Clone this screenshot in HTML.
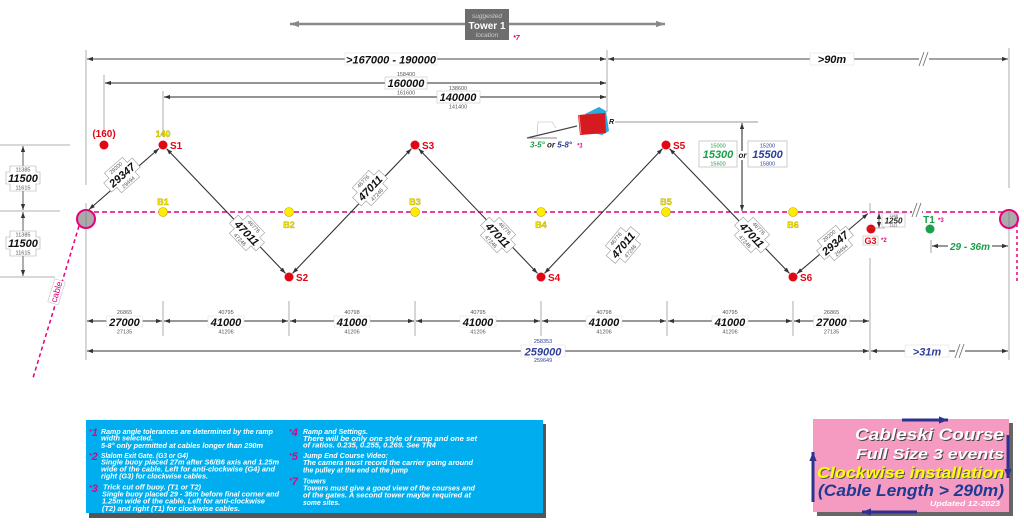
<!DOCTYPE html>
<html><head><meta charset="utf-8"><style>
html,body{margin:0;padding:0;background:#fff;}
svg{display:block;}
text{font-family:"Liberation Sans",Arial,sans-serif;}
.s{font-size:5.5px;fill:#555;text-anchor:middle;}
.b{font-size:11px;font-weight:bold;font-style:italic;fill:#111;text-anchor:middle;}
.n{font-size:7.5px;font-weight:bold;font-style:italic;fill:#fff;}
.m{font-weight:bold;font-style:italic;fill:#e6007e;font-size:11px;}
.red{font-size:10px;font-weight:bold;fill:#e30613;}
.yel{font-size:9px;font-weight:bold;fill:#f0e000;stroke:#a89a00;stroke-width:0.3;text-anchor:middle;}
</style></head><body>
<svg width="1024" height="528" viewBox="0 0 1024 528" xmlns="http://www.w3.org/2000/svg">
<defs>
<marker id="a" viewBox="0 0 10 10" refX="10" refY="5" markerWidth="6" markerHeight="6" markerUnits="userSpaceOnUse" orient="auto-start-reverse"><path d="M0,1.5L10,5L0,8.5z" fill="#333"/></marker>
<marker id="g" viewBox="0 0 10 10" refX="10" refY="5" markerWidth="9" markerHeight="9" markerUnits="userSpaceOnUse" orient="auto-start-reverse"><path d="M0,1.5L10,5L0,8.5z" fill="#888"/></marker>
<marker id="bl" viewBox="0 0 10 10" refX="10" refY="5" markerWidth="9" markerHeight="9" markerUnits="userSpaceOnUse" orient="auto-start-reverse"><path d="M0,1L10,5L0,9z" fill="#2e3192"/></marker>
</defs>

<!-- Tower -->
<line x1="290" y1="24" x2="665" y2="24" stroke="#8a8a8a" stroke-width="2.5" marker-start="url(#g)" marker-end="url(#g)"/>
<rect x="465" y="9" width="44" height="31" fill="#6d6d6d"/>
<text x="487" y="18" font-size="6.5" font-style="italic" fill="#ccc" text-anchor="middle">suggested</text>
<text x="487" y="29" font-size="10" font-weight="bold" fill="#fff" text-anchor="middle">Tower 1</text>
<text x="487" y="37" font-size="6.5" font-style="italic" fill="#ccc" text-anchor="middle">location</text>
<text x="513" y="40" font-size="7" font-weight="bold" font-style="italic" fill="#e6007e">*7</text>

<!-- vertical reference lines -->
<g stroke="#999" stroke-width="0.8">
<line x1="86" y1="50" x2="86" y2="185"/>
<line x1="86" y1="203" x2="86" y2="360"/>
<line x1="104" y1="75" x2="104" y2="133"/>
<line x1="163" y1="91" x2="163" y2="137"/>
<line x1="607" y1="50" x2="607" y2="112"/>
<line x1="1009" y1="48" x2="1009" y2="188"/>
<line x1="1009" y1="228" x2="1009" y2="360"/>
<line x1="870" y1="203" x2="870" y2="214"/>
<line x1="870" y1="258" x2="870" y2="360"/>
<line x1="0" y1="145" x2="70" y2="145"/>
<line x1="0" y1="211" x2="60" y2="211"/>
<line x1="0" y1="277" x2="55" y2="277"/>
</g>

<!-- top dims -->
<line x1="87" y1="59" x2="606" y2="59" stroke="#444" stroke-width="0.9" marker-start="url(#a)" marker-end="url(#a)"/>
<rect x="345" y="53" width="92" height="12" fill="#fff" stroke="#ddd" stroke-width="0.5"/>
<text x="391" y="63.5" class="b" font-size="12" textLength="90" lengthAdjust="spacingAndGlyphs">&gt;167000 - 190000</text>
<line x1="608" y1="59" x2="1008" y2="59" stroke="#444" stroke-width="0.9" marker-start="url(#a)" marker-end="url(#a)"/>
<rect x="810" y="53" width="44" height="12" fill="#fff" stroke="#ddd" stroke-width="0.5"/>
<text x="832" y="63" class="b">&gt;90m</text>
<rect x="919" y="52" width="10" height="14" fill="#fff"/>
<line x1="919" y1="66" x2="924" y2="52" stroke="#777" stroke-width="0.9"/>
<line x1="923" y1="66" x2="928" y2="52" stroke="#777" stroke-width="0.9"/>

<line x1="105" y1="83" x2="606" y2="83" stroke="#555" stroke-width="1.3" marker-start="url(#a)" marker-end="url(#a)"/>
<rect x="385" y="77" width="42" height="12" fill="#fff" stroke="#bbb" stroke-width="0.5"/>
<text x="406" y="76" class="s">158400</text>
<text x="406" y="87" class="b">160000</text>
<text x="406" y="94.5" class="s">161600</text>
<line x1="164" y1="97" x2="606" y2="97" stroke="#555" stroke-width="1.3" marker-start="url(#a)" marker-end="url(#a)"/>
<rect x="437" y="91" width="43" height="12" fill="#fff" stroke="#bbb" stroke-width="0.5"/>
<text x="458" y="90" class="s">138600</text>
<text x="458" y="101" class="b">140000</text>
<text x="458" y="108.5" class="s">141400</text>

<!-- left vertical dims -->
<line x1="23" y1="146" x2="23" y2="210" stroke="#333" stroke-width="0.8" marker-start="url(#a)" marker-end="url(#a)"/>
<line x1="23" y1="212" x2="23" y2="276" stroke="#333" stroke-width="0.8" marker-start="url(#a)" marker-end="url(#a)"/>
<path d="M10,166H36V172H40V184H36V191H10V184H6V172H10Z" fill="#fff" stroke="#aaa" stroke-width="0.6"/>
<text x="23" y="171.5" class="s">11385</text>
<text x="23" y="182" class="b">11500</text>
<text x="23" y="189.5" class="s">11615</text>
<path d="M10,231H36V237H40V249H36V256H10V249H6V237H10Z" fill="#fff" stroke="#aaa" stroke-width="0.6"/>
<text x="23" y="236.5" class="s">11385</text>
<text x="23" y="247" class="b">11500</text>
<text x="23" y="254.5" class="s">11615</text>

<!-- cable -->
<line x1="79" y1="226" x2="33" y2="378" stroke="#e6007e" stroke-width="1.5" stroke-dasharray="4,3"/>
<g transform="translate(57,292) rotate(-73)">
<rect x="-12" y="-6" width="24" height="11" fill="#fff" stroke="#bbb" stroke-width="0.5"/>
<text x="0" y="2.5" font-size="9" fill="#e6007e" text-anchor="middle">cable</text>
</g>

<!-- main dashed axis -->
<line x1="86" y1="212" x2="1009" y2="212" stroke="#e6007e" stroke-width="1.5" stroke-dasharray="5,3"/>
<line x1="1017" y1="224" x2="1017" y2="283" stroke="#e6007e" stroke-width="1.5" stroke-dasharray="3,3"/>
<rect x="912" y="203" width="10" height="14" fill="#fff"/>
<line x1="912" y1="217" x2="917" y2="203" stroke="#777" stroke-width="0.9"/>
<line x1="916" y1="217" x2="921" y2="203" stroke="#777" stroke-width="0.9"/>

<!-- pulleys -->
<circle cx="86" cy="219" r="9" fill="#aaa" stroke="#e6007e" stroke-width="2"/>
<line x1="86" y1="210" x2="86" y2="228" stroke="#777" stroke-width="0.6"/>
<circle cx="1009" cy="219" r="9" fill="#aaa" stroke="#e6007e" stroke-width="2"/>
<line x1="1009" y1="210" x2="1009" y2="228" stroke="#777" stroke-width="0.6"/>

<!-- ramp -->
<polygon points="585,114 599,107 606,111 609,131 602,135 588,132" fill="#29abe2"/>
<polygon points="578,115 605,113 606,133 580,135" fill="#d71920"/>
<line x1="579" y1="115" x2="581" y2="134" stroke="#f5a0a0" stroke-width="0.8"/>
<polyline points="537,135 538,122 552,122 556,128" fill="none" stroke="#bbb" stroke-width="0.6"/>
<line x1="527" y1="138" x2="577" y2="126" stroke="#444" stroke-width="1.2"/>
<line x1="527" y1="138" x2="557" y2="138" stroke="#666" stroke-width="0.8"/>
<text x="530" y="147.5" font-size="8" font-weight="bold" font-style="italic"><tspan fill="#1aa04a">3-5°</tspan><tspan fill="#222"> or </tspan><tspan fill="#2e3f9a">5-8°</tspan><tspan fill="#e6007e" font-size="6" dx="5">*1</tspan></text>
<text x="609" y="124" font-size="7" font-weight="bold" font-style="italic" fill="#111">R</text>
<line x1="615" y1="122" x2="758" y2="122" stroke="#777" stroke-width="0.8"/>
<line x1="742" y1="123" x2="742" y2="211" stroke="#222" stroke-width="1" marker-start="url(#a)" marker-end="url(#a)"/>
<rect x="699" y="141" width="38" height="26" fill="#fff" stroke="#aaa" stroke-width="0.6"/>
<text x="718" y="147.5" class="s" style="fill:#1aa04a">15000</text>
<text x="718" y="158" class="b" style="fill:#1aa04a">15300</text>
<text x="718" y="165.5" class="s" style="fill:#1aa04a">15600</text>
<rect x="738" y="151" width="9" height="9" fill="#fff"/>
<text x="742.5" y="158" font-size="8" font-weight="bold" font-style="italic" fill="#222" text-anchor="middle">or</text>
<rect x="748" y="141" width="39" height="26" fill="#fff" stroke="#aaa" stroke-width="0.6"/>
<text x="767.5" y="147.5" class="s" style="fill:#2e3f9a">15200</text>
<text x="767.5" y="158" class="b" style="fill:#2e3f9a">15500</text>
<text x="767.5" y="165.5" class="s" style="fill:#2e3f9a">15800</text>

<!-- zigzag -->
<g stroke="#333" stroke-width="1.1" marker-start="url(#a)" marker-end="url(#a)">
<line x1="89" y1="209.5" x2="159" y2="148.5"/>
<line x1="166.5" y1="148.6" x2="285.5" y2="273.4"/>
<line x1="292.5" y1="273.4" x2="411.5" y2="148.6"/>
<line x1="418.5" y1="148.6" x2="537.5" y2="273.4"/>
<line x1="544.5" y1="273.4" x2="662.5" y2="148.6"/>
<line x1="669.5" y1="148.6" x2="789.5" y2="273.4"/>
<line x1="796.8" y1="273.8" x2="868" y2="213.5"/>
</g>

<!-- slanted labels -->
<g transform="translate(122,175) rotate(-41)">
<path d="M-12,-13H12V-6H19V6H12V13H-12V6H-19V-6H-12Z" fill="#fff" stroke="#999" stroke-width="0.6"/>
<text x="0" y="-7.5" class="s">29200</text><text x="0" y="4" class="b">29347</text><text x="0" y="11.5" class="s">29494</text></g>
<g transform="translate(247,233) rotate(46.3)">
<path d="M-12,-13H12V-6H19V6H12V13H-12V6H-19V-6H-12Z" fill="#fff" stroke="#999" stroke-width="0.6"/>
<text x="0" y="-7.5" class="s">46776</text><text x="0" y="4" class="b">47011</text><text x="0" y="11.5" class="s">47246</text></g>
<g transform="translate(370,188) rotate(-46.3)">
<path d="M-12,-13H12V-6H19V6H12V13H-12V6H-19V-6H-12Z" fill="#fff" stroke="#999" stroke-width="0.6"/>
<text x="0" y="-7.5" class="s">46776</text><text x="0" y="4" class="b">47011</text><text x="0" y="11.5" class="s">47246</text></g>
<g transform="translate(498,235) rotate(46.3)">
<path d="M-12,-13H12V-6H19V6H12V13H-12V6H-19V-6H-12Z" fill="#fff" stroke="#999" stroke-width="0.6"/>
<text x="0" y="-7.5" class="s">46776</text><text x="0" y="4" class="b">47011</text><text x="0" y="11.5" class="s">47246</text></g>
<g transform="translate(623,245) rotate(-50)">
<path d="M-12,-13H12V-6H19V6H12V13H-12V6H-19V-6H-12Z" fill="#fff" stroke="#999" stroke-width="0.6"/>
<text x="0" y="-7.5" class="s">46776</text><text x="0" y="4" class="b">47011</text><text x="0" y="11.5" class="s">47246</text></g>
<g transform="translate(752,235) rotate(46.3)">
<path d="M-12,-13H12V-6H19V6H12V13H-12V6H-19V-6H-12Z" fill="#fff" stroke="#999" stroke-width="0.6"/>
<text x="0" y="-7.5" class="s">46776</text><text x="0" y="4" class="b">47011</text><text x="0" y="11.5" class="s">47246</text></g>
<g transform="translate(835,243) rotate(-40)">
<path d="M-12,-13H12V-6H19V6H12V13H-12V6H-19V-6H-12Z" fill="#fff" stroke="#999" stroke-width="0.6"/>
<text x="0" y="-7.5" class="s">29200</text><text x="0" y="4" class="b">29347</text><text x="0" y="11.5" class="s">29494</text></g>

<!-- buoys -->
<g fill="#ffec00" stroke="#b8a600" stroke-width="0.6">
<circle cx="163" cy="212" r="4.5"/><circle cx="289" cy="212" r="4.5"/><circle cx="415" cy="212" r="4.5"/>
<circle cx="541" cy="212" r="4.5"/><circle cx="666" cy="212" r="4.5"/><circle cx="793" cy="212" r="4.5"/>
</g>
<text x="163" y="205" class="yel">B1</text>
<text x="289" y="228" class="yel">B2</text>
<text x="415" y="205" class="yel">B3</text>
<text x="541" y="228" class="yel">B4</text>
<text x="666" y="205" class="yel">B5</text>
<text x="793" y="228" class="yel">B6</text>

<!-- slalom dots -->
<g fill="#e30613">
<circle cx="163" cy="145" r="4.5"/><circle cx="289" cy="277" r="4.5"/><circle cx="415" cy="145" r="4.5"/>
<circle cx="541" cy="277" r="4.5"/><circle cx="666" cy="145" r="4.5"/><circle cx="793" cy="277" r="4.5"/>
<circle cx="104" cy="145" r="4.5"/><circle cx="871" cy="229" r="4.5"/>
</g>
<text x="170" y="149" class="red">S1</text>
<text x="296" y="281" class="red">S2</text>
<text x="422" y="149" class="red">S3</text>
<text x="548" y="281" class="red">S4</text>
<text x="673" y="149" class="red">S5</text>
<text x="800" y="281" class="red">S6</text>
<text x="104" y="137" class="red" text-anchor="middle">(160)</text>
<text x="163" y="137" class="yel">140</text>

<!-- right end -->
<line x1="879" y1="213" x2="879" y2="228" stroke="#333" stroke-width="0.8" marker-start="url(#a)" marker-end="url(#a)"/>
<line x1="866" y1="228" x2="885" y2="228" stroke="#777" stroke-width="0.6"/>
<rect x="882" y="213" width="23" height="14" fill="#fff" stroke="#aaa" stroke-width="0.5"/>
<text x="893.5" y="217" font-size="4" fill="#555" text-anchor="middle">1188</text>
<text x="893.5" y="223.5" font-size="8" font-weight="bold" font-style="italic" fill="#222" text-anchor="middle">1250</text>
<text x="893.5" y="227" font-size="3.5" fill="#555" text-anchor="middle">1313</text>
<rect x="863" y="236" width="15" height="9" fill="#fff" stroke="#aaa" stroke-width="0.5"/>
<text x="870.5" y="244" font-size="9" font-weight="bold" fill="#e30613" text-anchor="middle">G3</text>
<text x="881" y="242" font-size="6" font-weight="bold" fill="#e6007e">*2</text>
<text x="929" y="223" font-size="10" font-weight="bold" fill="#1aa04a" text-anchor="middle">T1</text>
<text x="938" y="222" font-size="6" font-weight="bold" fill="#e6007e">*3</text>
<circle cx="930" cy="229" r="4.5" fill="#1aa04a"/>
<line x1="931" y1="240" x2="931" y2="253" stroke="#777" stroke-width="0.7"/>
<line x1="932" y1="246" x2="1008" y2="246" stroke="#333" stroke-width="0.9" marker-start="url(#a)" marker-end="url(#a)"/>
<rect x="948" y="240" width="44" height="12" fill="#fff"/>
<text x="970" y="250" font-size="10" font-weight="bold" font-style="italic" fill="#1aa04a" text-anchor="middle">29 - 36m</text>

<!-- bottom dims -->
<g stroke="#999" stroke-width="0.8">
<line x1="163" y1="301" x2="163" y2="336"/><line x1="289" y1="301" x2="289" y2="336"/>
<line x1="415" y1="301" x2="415" y2="336"/><line x1="541" y1="301" x2="541" y2="336"/>
<line x1="667" y1="301" x2="667" y2="336"/><line x1="793" y1="301" x2="793" y2="336"/>
</g>
<g stroke="#333" stroke-width="0.9" marker-start="url(#a)" marker-end="url(#a)">
<line x1="87" y1="321" x2="162" y2="321"/><line x1="164" y1="321" x2="288" y2="321"/>
<line x1="290" y1="321" x2="414" y2="321"/><line x1="416" y1="321" x2="540" y2="321"/>
<line x1="542" y1="321" x2="666" y2="321"/><line x1="668" y1="321" x2="792" y2="321"/>
<line x1="794" y1="321" x2="869" y2="321"/>
<line x1="87" y1="351" x2="869" y2="351"/><line x1="871" y1="351" x2="1008" y2="351"/>
</g>
<g fill="#fff" stroke="#ddd" stroke-width="0.5">
<rect x="106.5" y="316" width="36" height="11"/><rect x="208" y="316" width="36" height="11"/>
<rect x="334" y="316" width="36" height="11"/><rect x="460" y="316" width="36" height="11"/>
<rect x="586" y="316" width="36" height="11"/><rect x="712" y="316" width="36" height="11"/>
<rect x="813.5" y="316" width="36" height="11"/>
<rect x="521" y="345" width="44" height="12"/><rect x="905" y="345" width="44" height="12"/>
</g>
<text x="124.5" y="314" class="s">26865</text><text x="124.5" y="326" class="b" font-size="12">27000</text><text x="124.5" y="333.5" class="s">27135</text>
<text x="226" y="314" class="s">40795</text><text x="226" y="326" class="b" font-size="12">41000</text><text x="226" y="333.5" class="s">41206</text>
<text x="352" y="314" class="s">40798</text><text x="352" y="326" class="b" font-size="12">41000</text><text x="352" y="333.5" class="s">41206</text>
<text x="478" y="314" class="s">40795</text><text x="478" y="326" class="b" font-size="12">41000</text><text x="478" y="333.5" class="s">41206</text>
<text x="604" y="314" class="s">40798</text><text x="604" y="326" class="b" font-size="12">41000</text><text x="604" y="333.5" class="s">41206</text>
<text x="730" y="314" class="s">40795</text><text x="730" y="326" class="b" font-size="12">41000</text><text x="730" y="333.5" class="s">41206</text>
<text x="831.5" y="314" class="s">26865</text><text x="831.5" y="326" class="b" font-size="12">27000</text><text x="831.5" y="333.5" class="s">27135</text>
<text x="543" y="343" class="s" style="fill:#2e3f9a">258353</text>
<text x="543" y="355.5" class="b" font-size="12" style="fill:#2e3f9a">259000</text>
<text x="543" y="362" class="s" style="fill:#2e3f9a">259649</text>
<text x="927" y="355.5" class="b" font-size="12" style="fill:#2e3f9a">&gt;31m</text>
<rect x="955" y="344" width="10" height="14" fill="#fff"/>
<line x1="955" y1="358" x2="960" y2="344" stroke="#777" stroke-width="0.9"/>
<line x1="959" y1="358" x2="964" y2="344" stroke="#777" stroke-width="0.9"/>

<!-- notes box -->
<rect x="89" y="424" width="457" height="94" fill="#555"/>
<rect x="86" y="420" width="457" height="93" fill="#00aeef"/>
<text x="89" y="436" class="m"><tspan font-size="7" dy="-2">*</tspan><tspan dy="2">1</tspan></text>
<text x="101" y="434" class="n" textLength="172" lengthAdjust="spacingAndGlyphs">Ramp angle tolerances are determined by the ramp</text>
<text x="101" y="440.5" class="n" textLength="52" lengthAdjust="spacingAndGlyphs">width selected.</text>
<text x="101" y="448" class="n" textLength="162" lengthAdjust="spacingAndGlyphs">5-8° only permitted at cables longer than 290m</text>
<text x="89" y="460" class="m"><tspan font-size="7" dy="-2">*</tspan><tspan dy="2">2</tspan></text>
<text x="101" y="458" class="n" textLength="87" lengthAdjust="spacingAndGlyphs">Slalom Exit Gate. (G3 or G4)</text>
<text x="101" y="464.5" class="n" textLength="178" lengthAdjust="spacingAndGlyphs">Single buoy placed 27m after S6/B6 axis and 1.25m</text>
<text x="101" y="471.5" class="n" textLength="174" lengthAdjust="spacingAndGlyphs">wide of the cable. Left for anti-clockwise (G4) and</text>
<text x="101" y="478.5" class="n" textLength="107" lengthAdjust="spacingAndGlyphs">right (G3) for clockwise cables.</text>
<text x="89" y="492" class="m"><tspan font-size="7" dy="-2">*</tspan><tspan dy="2">3</tspan></text>
<text x="103" y="489.5" class="n" textLength="98" lengthAdjust="spacingAndGlyphs">Trick cut off buoy. (T1 or T2)</text>
<text x="102" y="496.5" class="n" textLength="177" lengthAdjust="spacingAndGlyphs">Single buoy placed 29 - 36m before final corner and</text>
<text x="102" y="503.5" class="n" textLength="163" lengthAdjust="spacingAndGlyphs">1.25m wide of the cable. Left for anti-clockwise</text>
<text x="102" y="511" class="n" textLength="138" lengthAdjust="spacingAndGlyphs">(T2) and right (T1) for clockwise cables.</text>
<text x="289" y="436" class="m"><tspan font-size="7" dy="-2">*</tspan><tspan dy="2">4</tspan></text>
<text x="303" y="434" class="n" textLength="65" lengthAdjust="spacingAndGlyphs">Ramp and Settings.</text>
<text x="303" y="441" class="n" textLength="174" lengthAdjust="spacingAndGlyphs">There will be only one style of ramp and  one set</text>
<text x="303" y="447.5" class="n" textLength="133" lengthAdjust="spacingAndGlyphs">of ratios. 0.235, 0.255, 0.269. See TR4</text>
<text x="289" y="460" class="m"><tspan font-size="7" dy="-2">*</tspan><tspan dy="2">5</tspan></text>
<text x="303" y="458" class="n" textLength="85" lengthAdjust="spacingAndGlyphs">Jump End Course Video:</text>
<text x="303" y="465" class="n" textLength="170" lengthAdjust="spacingAndGlyphs">The camera must record the carrier going around</text>
<text x="303" y="472.5" class="n" textLength="105" lengthAdjust="spacingAndGlyphs">the pulley at the end of the jump</text>
<text x="289" y="485" class="m"><tspan font-size="7" dy="-2">*</tspan><tspan dy="2">7</tspan></text>
<text x="303" y="483.5" class="n" textLength="23" lengthAdjust="spacingAndGlyphs">Towers</text>
<text x="303" y="490.5" class="n" textLength="172" lengthAdjust="spacingAndGlyphs">Towers must give a good view of the courses and</text>
<text x="303" y="497.5" class="n" textLength="168" lengthAdjust="spacingAndGlyphs">of the gates. A second tower maybe required at</text>
<text x="303" y="505" class="n" textLength="37" lengthAdjust="spacingAndGlyphs">some sites.</text>

<!-- title box -->
<rect x="817" y="423" width="196" height="93" fill="#666"/>
<rect x="813" y="419" width="196" height="93" fill="#f59ac0"/>
<g font-weight="bold" font-style="italic" text-anchor="end">
<text x="1005" y="441" font-size="17" fill="#444" textLength="149" lengthAdjust="spacingAndGlyphs">Cableski Course</text>
<text x="1004" y="440" font-size="17" fill="#fff" textLength="149" lengthAdjust="spacingAndGlyphs">Cableski Course</text>
<text x="1005" y="460" font-size="15" fill="#444" textLength="148" lengthAdjust="spacingAndGlyphs">Full Size 3  events</text>
<text x="1004" y="459" font-size="15" fill="#fff" textLength="148" lengthAdjust="spacingAndGlyphs">Full Size 3  events</text>
<text x="1005" y="479" font-size="16" fill="#555" textLength="187" lengthAdjust="spacingAndGlyphs">Clockwise  installation</text>
<text x="1004" y="478" font-size="16" fill="#ffff00" textLength="187" lengthAdjust="spacingAndGlyphs">Clockwise  installation</text>
<text x="1004" y="496" font-size="17" fill="#1f3a93" textLength="186" lengthAdjust="spacingAndGlyphs">(Cable Length &gt; 290m)</text>
<text x="1000" y="506" font-size="7" fill="#fff" textLength="70" lengthAdjust="spacingAndGlyphs">Updated 12-2023</text>
</g>
<g stroke="#2e3192" stroke-width="3" marker-end="url(#bl)">
<line x1="902" y1="420" x2="948" y2="420"/>
<line x1="1008" y1="435" x2="1008" y2="478"/>
<line x1="917" y1="512" x2="862" y2="512"/>
<line x1="813" y1="502" x2="813" y2="452"/>
</g>
</svg>
</body></html>
